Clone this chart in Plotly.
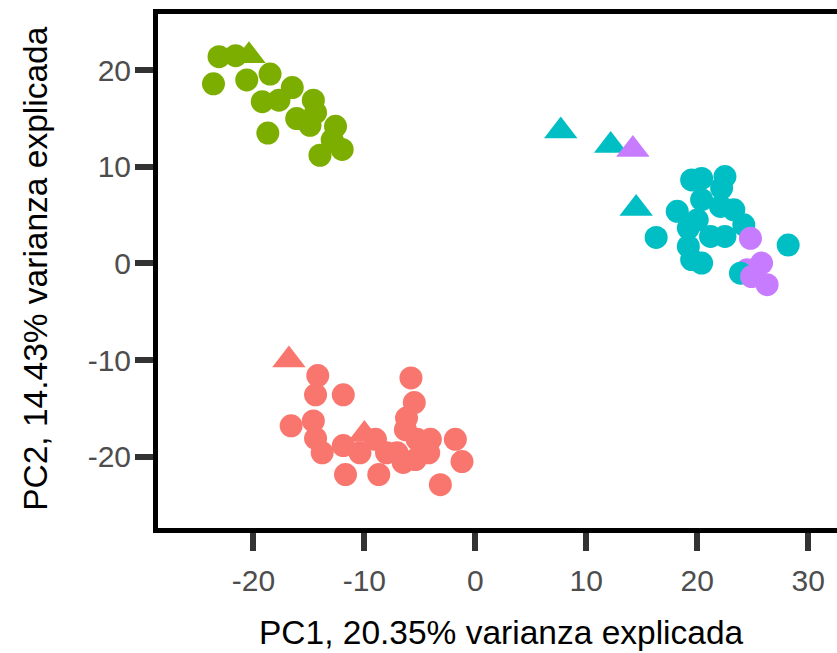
import plotly.graph_objects as go

# ---- data ----
groups = ["G1", "G2", "G3", "G4"]
group_colors = {"G1": "#F8766D", "G2": "#7CAE00", "G3": "#00BFC4", "G4": "#C77CFF"}
shape_symbols = {"circle": "circle", "triangle": "triangle-up"}

# green group
g2_pc1 = [-23.1, -21.6, -20.4, -23.6, -20.6, -18.5, -16.5, -19.2, -17.7, -18.7,
          -14.6, -16.1, -14.9, -14.4, -12.6, -14.0, -12.0, -12.9]
g2_pc2 = [21.4, 21.5, 21.5, 18.6, 19.0, 19.6, 18.2, 16.75, 16.9, 13.5,
          16.9, 15.0, 14.3, 15.6, 14.2, 11.2, 11.8, 12.8]
g2_shape = ["circle", "circle", "triangle", "circle", "circle", "circle", "circle", "circle", "circle", "circle",
            "circle", "circle", "circle", "circle", "circle", "circle", "circle", "circle"]

# red group
g1_pc1 = [-16.8, -10.0, -14.2, -14.4, -11.9, -5.8, -5.5, -6.2, -6.3, -16.6,
          -14.6, -14.4, -13.8, -11.9, -11.7, -10.4, -9.0, -8.7, -8.0, -6.5,
          -5.4, -4.05, -4.2, -1.8, -1.2, -3.15, -7.05, -5.25]
g1_pc2 = [-10.0, -17.7, -11.6, -13.6, -13.6, -11.85, -14.4, -16.0, -17.2, -16.8,
          -16.3, -18.1, -19.6, -18.85, -21.85, -19.6, -18.2, -21.85, -19.6, -20.6,
          -20.3, -18.2, -19.6, -18.2, -20.5, -22.9, -19.6, -18.2]
g1_shape = ["triangle", "triangle"] + ["circle"] * 26

# cyan group
g3_pc1 = [7.7, 12.2, 14.5, 16.3, 19.5, 20.4, 22.5, 22.2, 18.2, 20.4,
          23.3, 22.1, 24.2, 19.2, 21.2, 19.2, 19.5, 20.4, 22.5, 20.0, 28.2]
g3_pc2 = [13.7, 12.2, 5.7, 2.7, 8.65, 8.8, 9.0, 7.8, 5.4, 6.6,
          5.55, 5.9, 4.0, 3.66, 2.8, 1.76, 0.4, 0.04, 2.8, 4.5, 1.9]
g3_shape = ["triangle", "triangle", "triangle"] + ["circle"] * 18

# purple group (first circle sits under a cyan point)
g4a_pc1 = [24.5]
g4a_pc2 = [-0.65]
g3b_pc1 = [23.9]
g3b_pc2 = [-1.0]
g4_pc1 = [14.2, 24.8, 25.8, 24.9, 26.3]
g4_pc2 = [11.8, 2.6, 0.04, -1.35, -2.2]
g4_shape = ["triangle", "circle", "circle", "circle", "circle"]

x_ticks = [-20, -10, 0, 10, 20, 30]
y_ticks = [-20, -10, 0, 10, 20]
x_title = "PC1, 20.35% varianza explicada"
y_title = "PC2, 14.43% varianza explicada"

# ---- assemble in drawing order ----
pc1, pc2, grp, shp = [], [], [], []
def add(xs, ys, g, shapes):
    for a, b, s in zip(xs, ys, shapes):
        pc1.append(a); pc2.append(b); grp.append(g); shp.append(s)

add(g1_pc1, g1_pc2, "G1", g1_shape)
add(g2_pc1, g2_pc2, "G2", g2_shape)
add(g3_pc1, g3_pc2, "G3", g3_shape)
add(g4a_pc1, g4a_pc2, "G4", ["circle"])
add(g3b_pc1, g3b_pc2, "G3", ["circle"])
add(g4_pc1, g4_pc2, "G4", g4_shape)

colors = [group_colors[g] for g in grp]
symbols = [shape_symbols[s] for s in shp]
sizes = [23 if s == "circle" else 29 for s in shp]

W, H = 837, 653
L, R, T, B = 157.5, 0, 14, 124.5
pw, ph = W - L - R, H - T - B

def px_x(p):
    return (p - L) / pw
def px_y(p):
    return (H - B - p) / ph

FONT = "Liberation Sans, Arial, sans-serif"

fig = go.Figure()
fig.add_trace(go.Scatter(
    x=pc1, y=pc2, mode="markers",
    marker=dict(color=colors, symbol=symbols, size=sizes, line=dict(width=0), opacity=1),
    showlegend=False, hoverinfo="skip",
))

axis_common = dict(
    showgrid=False, zeroline=False, showline=True, linecolor="black", linewidth=5,
    ticks="outside", ticklen=18, tickwidth=6, tickcolor="#333333",
    tickfont=dict(family=FONT, size=30, color="#4D4D4D"),
)
fig.update_xaxes(range=[-28.6, 32.6], tickvals=x_ticks, ticktext=[str(v) for v in x_ticks],
                 mirror=True, ticklabelstandoff=4, **axis_common)
fig.update_yaxes(range=[-27.38, 25.82], tickvals=y_ticks, ticktext=[str(v) for v in y_ticks],
                 mirror=False, ticklabelstandoff=-2, **axis_common)

fig.add_annotation(text=x_title, xref="paper", yref="paper", x=px_x(501.5), y=px_y(633),
                   xanchor="center", yanchor="middle", showarrow=False,
                   font=dict(family=FONT, size=33.5, color="black"))
fig.add_annotation(text=y_title, xref="paper", yref="paper", x=px_x(35), y=px_y(268.5),
                   xanchor="center", yanchor="middle", showarrow=False, textangle=-90,
                   font=dict(family=FONT, size=33.5, color="black"))

fig.update_layout(
    width=W, height=H, margin=dict(l=L, r=R, t=T, b=B, pad=0),
    paper_bgcolor="white", plot_bgcolor="white",
)

fig.write_html("out.html")
